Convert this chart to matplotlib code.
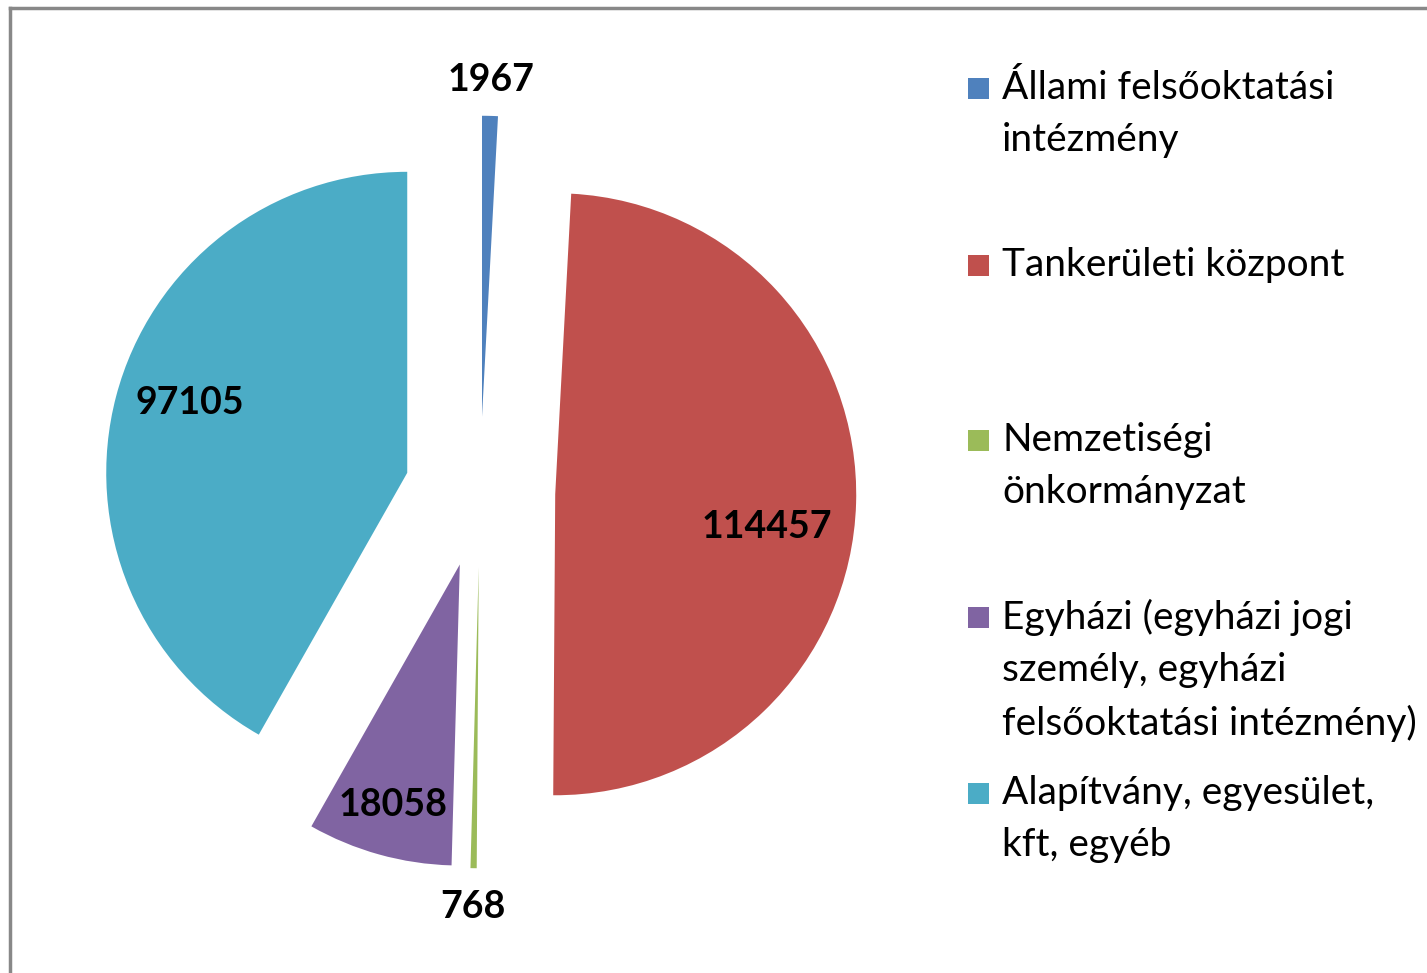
import numpy as np
import matplotlib
matplotlib.use("Agg")
import matplotlib.pyplot as plt
from matplotlib.patches import Rectangle
from matplotlib.lines import Line2D

plt.rcParams['font.family'] = ['Lato', 'DejaVu Sans']

categories = [
    "Állami felsőoktatási\nintézmény",
    "Tankerületi központ",
    "Nemzetiségi\nönkormányzat",
    "Egyházi (egyházi jogi\nszemély, egyházi\nfelsőoktatási intézmény)",
    "Alapítvány, egyesület,\nkft, egyéb",
]
values = [1967, 114457, 768, 18058, 97105]
colors = ["#4F81BD", "#C0504D", "#9BBB59", "#8064A2", "#4BACC6"]

# label placement: distance from each (exploded) wedge centre in radii,
# and a small turn (degrees) away from the wedge's middle angle
label_dist = [1.12, 0.71, 1.13, 0.83, 0.76]
label_turn = [0, -7, 0, 0, -3]

W, H = 1427, 973
fig = plt.figure(figsize=(W / 100, H / 100), dpi=100)
ax = fig.add_axes([0, 0, 1, 1])

R = 301
# explode is in data units here, so a quarter of the radius
wedges, _ = ax.pie(values, colors=colors, startangle=90, counterclock=False,
                   explode=[0.25 * R] * len(values), radius=R, center=(480, H - 492),
                   wedgeprops=dict(linewidth=0))
# pie() sets its own limits, so put the pixel frame back afterwards
ax.set_xlim(0, W)
ax.set_ylim(0, H)
ax.set_aspect('equal')
ax.axis('off')

for w, v, d, t in zip(wedges, values, label_dist, label_turn):
    mid = np.deg2rad((w.theta1 + w.theta2) / 2 + t)
    cx, cy = w.center
    ax.text(cx + d * R * np.cos(mid), cy + d * R * np.sin(mid), str(v),
            ha='center', va='center', fontsize=27, fontweight='bold', color='black')

# legend, spread evenly like the original
leg_y = [88, 265, 440, 617, 793]
for lab, c, y in zip(categories, colors, leg_y):
    ax.add_patch(Rectangle((968, H - y - 11), 21, 21, facecolor=c, edgecolor='none'))
    ax.text(1002, H - y + 18, lab, ha='left', va='top', fontsize=28, linespacing=1.55,
            color='black')

# frame (cut at the right and bottom in the original)
fig.add_artist(Line2D([10 / W, 1.01], [1 - 8 / H, 1 - 8 / H], color='#888888', lw=2.5))
fig.add_artist(Line2D([10 / W, 10 / W], [1 - 8 / H, -0.01], color='#888888', lw=2.5))

fig.savefig("out.png", dpi=100, facecolor='white')
